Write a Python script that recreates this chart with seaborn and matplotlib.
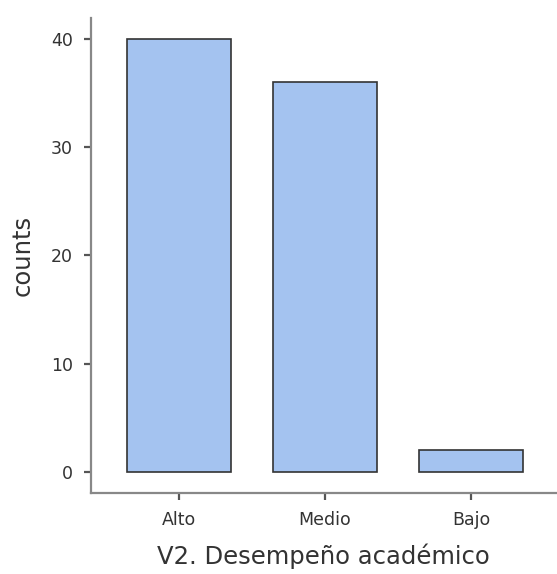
import seaborn as sns
import pandas as pd
import matplotlib.pyplot as plt

categories = ['Alto', 'Medio', 'Bajo']
counts = [40, 36, 2]

df = pd.DataFrame({'V2. Desempeño académico': categories, 'counts': counts})

sns.set_style('ticks')
plt.rcParams['font.family'] = ['DejaVu Sans']

fig = plt.figure(figsize=(5.57, 5.74), dpi=100)
ax = fig.add_axes([0.1634, 0.141, 0.835, 0.8276])

sns.barplot(data=df, x='V2. Desempeño académico', y='counts', color='#A4C3F0',
            saturation=1, width=0.71, edgecolor='#333333', linewidth=1.2, ax=ax)

ax.set_xlim(-0.6, 2.58)
ax.set_ylim(-1.95, 41.9)
ax.set_yticks([0, 10, 20, 30, 40])
sns.despine(ax=ax)
for s in ['left', 'bottom']:
    ax.spines[s].set_color('#888888')
    ax.spines[s].set_linewidth(1.6)
ax.tick_params(colors='#555555', labelcolor='#333333', labelsize=12.5,
               length=5, width=1.6, pad=8)
ax.set_xlabel('V2. Desempeño académico', fontsize=17.5, color='#333333', labelpad=10)
ax.set_ylabel('counts', fontsize=17.5, color='#333333', labelpad=12)

fig.savefig('out.png', dpi=100)
